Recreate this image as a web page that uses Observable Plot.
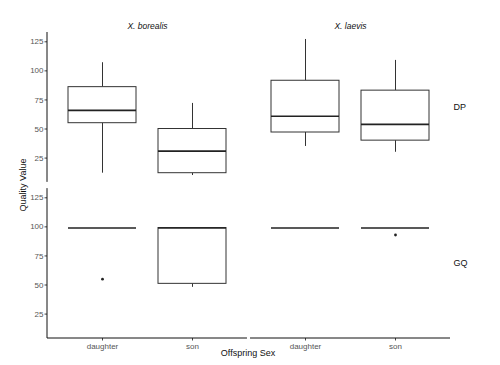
<!DOCTYPE html>
<html><head><meta charset="utf-8">
<script src="https://cdn.jsdelivr.net/npm/d3@7"></script>
<script src="https://cdn.jsdelivr.net/npm/@observablehq/plot@0.6"></script>
<style>body{margin:0;background:#fff} svg{font-family:"Liberation Sans",Arial,sans-serif}</style>
</head><body><div id="chart"></div>
<script>
// Facet / category order
const speciesOrder = ["X. borealis", "X. laevis"];
const metricOrder = ["DP", "GQ"];
const sexOrder = ["daughter", "son"];
const yTicks = [25, 50, 75, 100, 125];

// Box summaries (one entry per box)
const boxSpecies = ["X. borealis", "X. borealis", "X. laevis", "X. laevis", "X. borealis", "X. borealis", "X. laevis", "X. laevis"];
const boxMetric  = ["DP", "DP", "DP", "DP", "GQ", "GQ", "GQ", "GQ"];
const boxSex     = ["daughter", "son", "daughter", "son", "daughter", "son", "daughter", "son"];
const boxLow     = [12, 10, 35, 30, 99, 48, 99, 99];
const boxQ1      = [55, 12, 47, 40, 99, 51, 99, 99];
const boxMedian  = [66, 31, 61, 54, 99, 99, 99, 99];
const boxQ3      = [86, 50, 91.5, 83, 99, 99, 99, 99];
const boxHigh    = [107, 72, 127, 109, 99, 99, 99, 99];

// Outliers
const outSpecies = ["X. borealis", "X. laevis"];
const outMetric  = ["GQ", "GQ"];
const outSex     = ["daughter", "son"];
const outValue   = [55, 93];

const boxes = boxSpecies.map((s, i) => ({
  species: s, metric: boxMetric[i], sex: boxSex[i],
  lo: boxLow[i], q1: boxQ1[i], med: boxMedian[i], q3: boxQ3[i], hi: boxHigh[i]
}));
const outliers = outSpecies.map((s, i) => ({
  species: s, metric: outMetric[i], sex: outSex[i], value: outValue[i]
}));

const F = {fx: "species", fy: "metric"};
const chart = Plot.plot({
  width: 500, height: 365,
  marginLeft: 47, marginRight: 50, marginTop: 32, marginBottom: 27,
  style: {fontFamily: "Liberation Sans, Arial, sans-serif", fontSize: "8px", background: "white", color: "#222"},
  fx: {domain: speciesOrder, paddingInner: 0.015, paddingOuter: 0},
  fy: {domain: metricOrder, paddingInner: 0.04, paddingOuter: 0},
  x: {domain: sexOrder, paddingInner: 0.25, paddingOuter: 0.225},
  y: {domain: [4, 133]},
  marks: [
    Plot.axisY({ticks: yTicks, tickSize: 2.5, tickPadding: 1.5, label: null, fill: "#555", stroke: "#444"}),
    Plot.axisX({anchor: "bottom", tickSize: 2.5, tickPadding: 2, label: null, fill: "#555", stroke: "#444"}),
    Plot.axisFx({anchor: "top", tickSize: 0, tickPadding: 4, label: null, fontStyle: "italic", fontSize: 8.5, fill: "#111"}),
    Plot.axisFy({anchor: "right", tickSize: 0, tickPadding: 3, label: null, fontSize: 9, fill: "#111"}),
    Plot.ruleX(boxes, {...F, x: "sex", y1: "q3", y2: "hi", stroke: "#333"}),
    Plot.ruleX(boxes, {...F, x: "sex", y1: "lo", y2: "q1", stroke: "#333"}),
    Plot.barY(boxes, {...F, x: "sex", y1: "q1", y2: "q3", fill: "white", stroke: "#333"}),
    Plot.tickY(boxes, {...F, x: "sex", y: "med", stroke: "#222", strokeWidth: 1.6}),
    Plot.dot(outliers, {...F, x: "sex", y: "value", r: 1.4, fill: "#222", stroke: null})
  ]
});
document.getElementById("chart").appendChild(chart);

// Axis lines per panel, positioned from the plot's own facet scales
const fxS = chart.scale("fx"), fyS = chart.scale("fy");
const band = s => d3.scaleBand().domain(s.domain).range(s.range)
  .paddingInner(s.paddingInner ?? 0).paddingOuter(s.paddingOuter ?? 0).align(s.align ?? 0.5);
const bx = band(fxS), by = band(fyS);
const svg = d3.select(chart);
const lines = svg.append("g").attr("stroke", "#111").attr("stroke-width", 1);
for (const m of by.domain()) {
  const x0 = bx(bx.domain()[0]);
  lines.append("line").attr("x1", x0).attr("x2", x0)
    .attr("y1", by(m)).attr("y2", by(m) + by.bandwidth());
}
const lastRow = by.domain()[by.domain().length - 1];
for (const s of bx.domain()) {
  const yb = by(lastRow) + by.bandwidth();
  lines.append("line").attr("x1", bx(s)).attr("x2", bx(s) + bx.bandwidth())
    .attr("y1", yb).attr("y2", yb);
}

svg.append("text").attr("x", 248).attr("y", 356).attr("text-anchor", "middle")
  .attr("font-size", 9).attr("fill", "#111").text("Offspring Sex");
svg.append("text").attr("transform", "translate(26,185) rotate(-90)").attr("text-anchor", "middle")
  .attr("font-size", 9).attr("fill", "#111").text("Quality Value");
</script>
</body></html>
